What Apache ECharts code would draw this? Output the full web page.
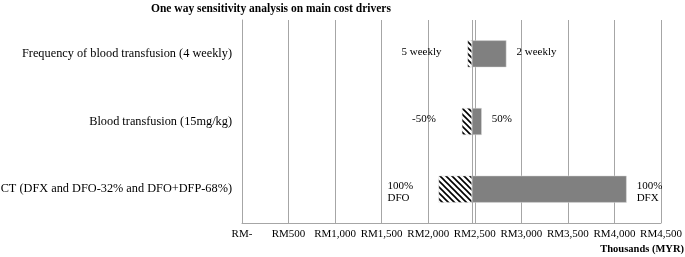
<!DOCTYPE html>
<html>
<head>
<meta charset="utf-8">
<script src="https://cdn.jsdelivr.net/npm/echarts@6/dist/echarts.min.js"></script>
<style>
  html, body { margin: 0; padding: 0; background: #fff; }
  #chart { width: 685px; height: 257px; }
</style>
</head>
<body>
<div id="chart"></div>
<script>
  // drivers, top to bottom
  const categories = [
    "Frequency of blood transfusion (4 weekly)",
    "Blood transfusion (15mg/kg)",
    "CT (DFX and DFO-32% and DFO+DFP-68%)"
  ];
  // base case cost (thousands MYR)
  const baseValue = 2470;
  const lowValues = [2422, 2361, 2111];
  const highValues = [2840, 2575, 4131];
  const lowLabels = ["5 weekly", "-50%", "100%\nDFO"];
  const highLabels = ["2 weekly", "50%", "100%\nDFX"];
  const tickLabels = ["RM-", "RM500", "RM1,000", "RM1,500", "RM2,000", "RM2,500",
    "RM3,000", "RM3,500", "RM4,000", "RM4,500"];

  const font = "Liberation Serif";

  // multi-line labels are left aligned line by line
  const fmt = (s) => s.includes("\n") ? s.split("\n").map((l) => "{l|" + l + "}").join("\n") : s;
  // single line labels sit a bit high, two-line ones a bit low
  const labelOffset = (s) => s.includes("\n") ? [0, 3] : [0, -2];

  // diagonal hatch pattern
  const hatch = document.createElement("canvas");
  hatch.width = 6;
  hatch.height = 6;
  const hc = hatch.getContext("2d");
  hc.fillStyle = "#fff";
  hc.fillRect(0, 0, 6, 6);
  hc.strokeStyle = "#000";
  hc.lineWidth = 1.6;
  hc.beginPath();
  hc.moveTo(-1, -1); hc.lineTo(7, 7);
  hc.moveTo(-4, 2); hc.lineTo(4, 10);
  hc.moveTo(2, -4); hc.lineTo(10, 4);
  hc.stroke();

  const labelBase = {
    show: true,
    fontFamily: font,
    fontSize: 11,
    color: "#000",
    lineHeight: 12,
    rich: { l: { fontFamily: font, fontSize: 11, color: "#000", width: 25, align: "left", lineHeight: 12 } }
  };

  const chart = echarts.init(document.getElementById("chart"));

  const option = {
    animation: false,
    textStyle: { fontFamily: font },
    title: {
      text: "One way sensitivity analysis on main cost drivers",
      left: 146,
      top: -2,
      textStyle: { fontFamily: font, fontSize: 11.5, fontWeight: "bold", color: "#000" }
    },
    grid: { left: 242, right: 24, top: 20, bottom: 34, outerBoundsMode: "none", containLabel: false },
    xAxis: {
      type: "value",
      min: 0,
      max: 4500,
      interval: 500,
      axisLine: { show: true, lineStyle: { color: "#a6a6a6" } },
      axisTick: { show: false },
      splitLine: { show: true, lineStyle: { color: "#a6a6a6" } },
      axisLabel: {
        fontFamily: font,
        fontSize: 11,
        color: "#000",
        margin: 6,
        formatter: (v) => tickLabels[Math.round(v / 500)]
      }
    },
    yAxis: {
      type: "category",
      inverse: true,
      data: categories,
      axisLine: { show: true, lineStyle: { color: "#a6a6a6" } },
      axisTick: { show: false },
      axisLabel: { fontFamily: font, fontSize: 12.3, color: "#000", margin: 10 }
    },
    graphic: [{
      type: "text",
      right: 1,
      top: 244,
      style: { text: "Thousands (MYR)", font: "bold 10.5px 'Liberation Serif'", fill: "#000" }
    }],
    series: [
      {
        name: "offset",
        type: "bar",
        stack: "t",
        barWidth: 27,
        silent: true,
        itemStyle: { color: "transparent" },
        data: lowValues
      },
      {
        name: "low",
        type: "bar",
        stack: "t",
        barWidth: 27,
        itemStyle: { color: { image: hatch, repeat: "repeat" }, borderColor: "#ddd", borderWidth: 0.5 },
        label: Object.assign({}, labelBase, {
          position: "left",
          distance: 26,
          formatter: (p) => fmt(lowLabels[p.dataIndex])
        }),
        data: lowValues.map((v, i) => ({
          value: baseValue - v,
          label: { offset: labelOffset(lowLabels[i]) }
        }))
      },
      {
        name: "high",
        type: "bar",
        stack: "t",
        barWidth: 27,
        itemStyle: { color: "#808080", borderColor: "#ddd", borderWidth: 0.5 },
        label: Object.assign({}, labelBase, {
          position: "right",
          distance: 10,
          formatter: (p) => fmt(highLabels[p.dataIndex])
        }),
        markLine: {
          silent: true,
          symbol: "none",
          label: { show: false },
          lineStyle: { color: "#a6a6a6", type: "solid", width: 1 },
          data: [{ xAxis: baseValue }]
        },
        data: highValues.map((v, i) => ({
          value: v - baseValue,
          label: { offset: labelOffset(highLabels[i]) }
        }))
      }
    ]
  };

  chart.setOption(option);
</script>
</body>
</html>
